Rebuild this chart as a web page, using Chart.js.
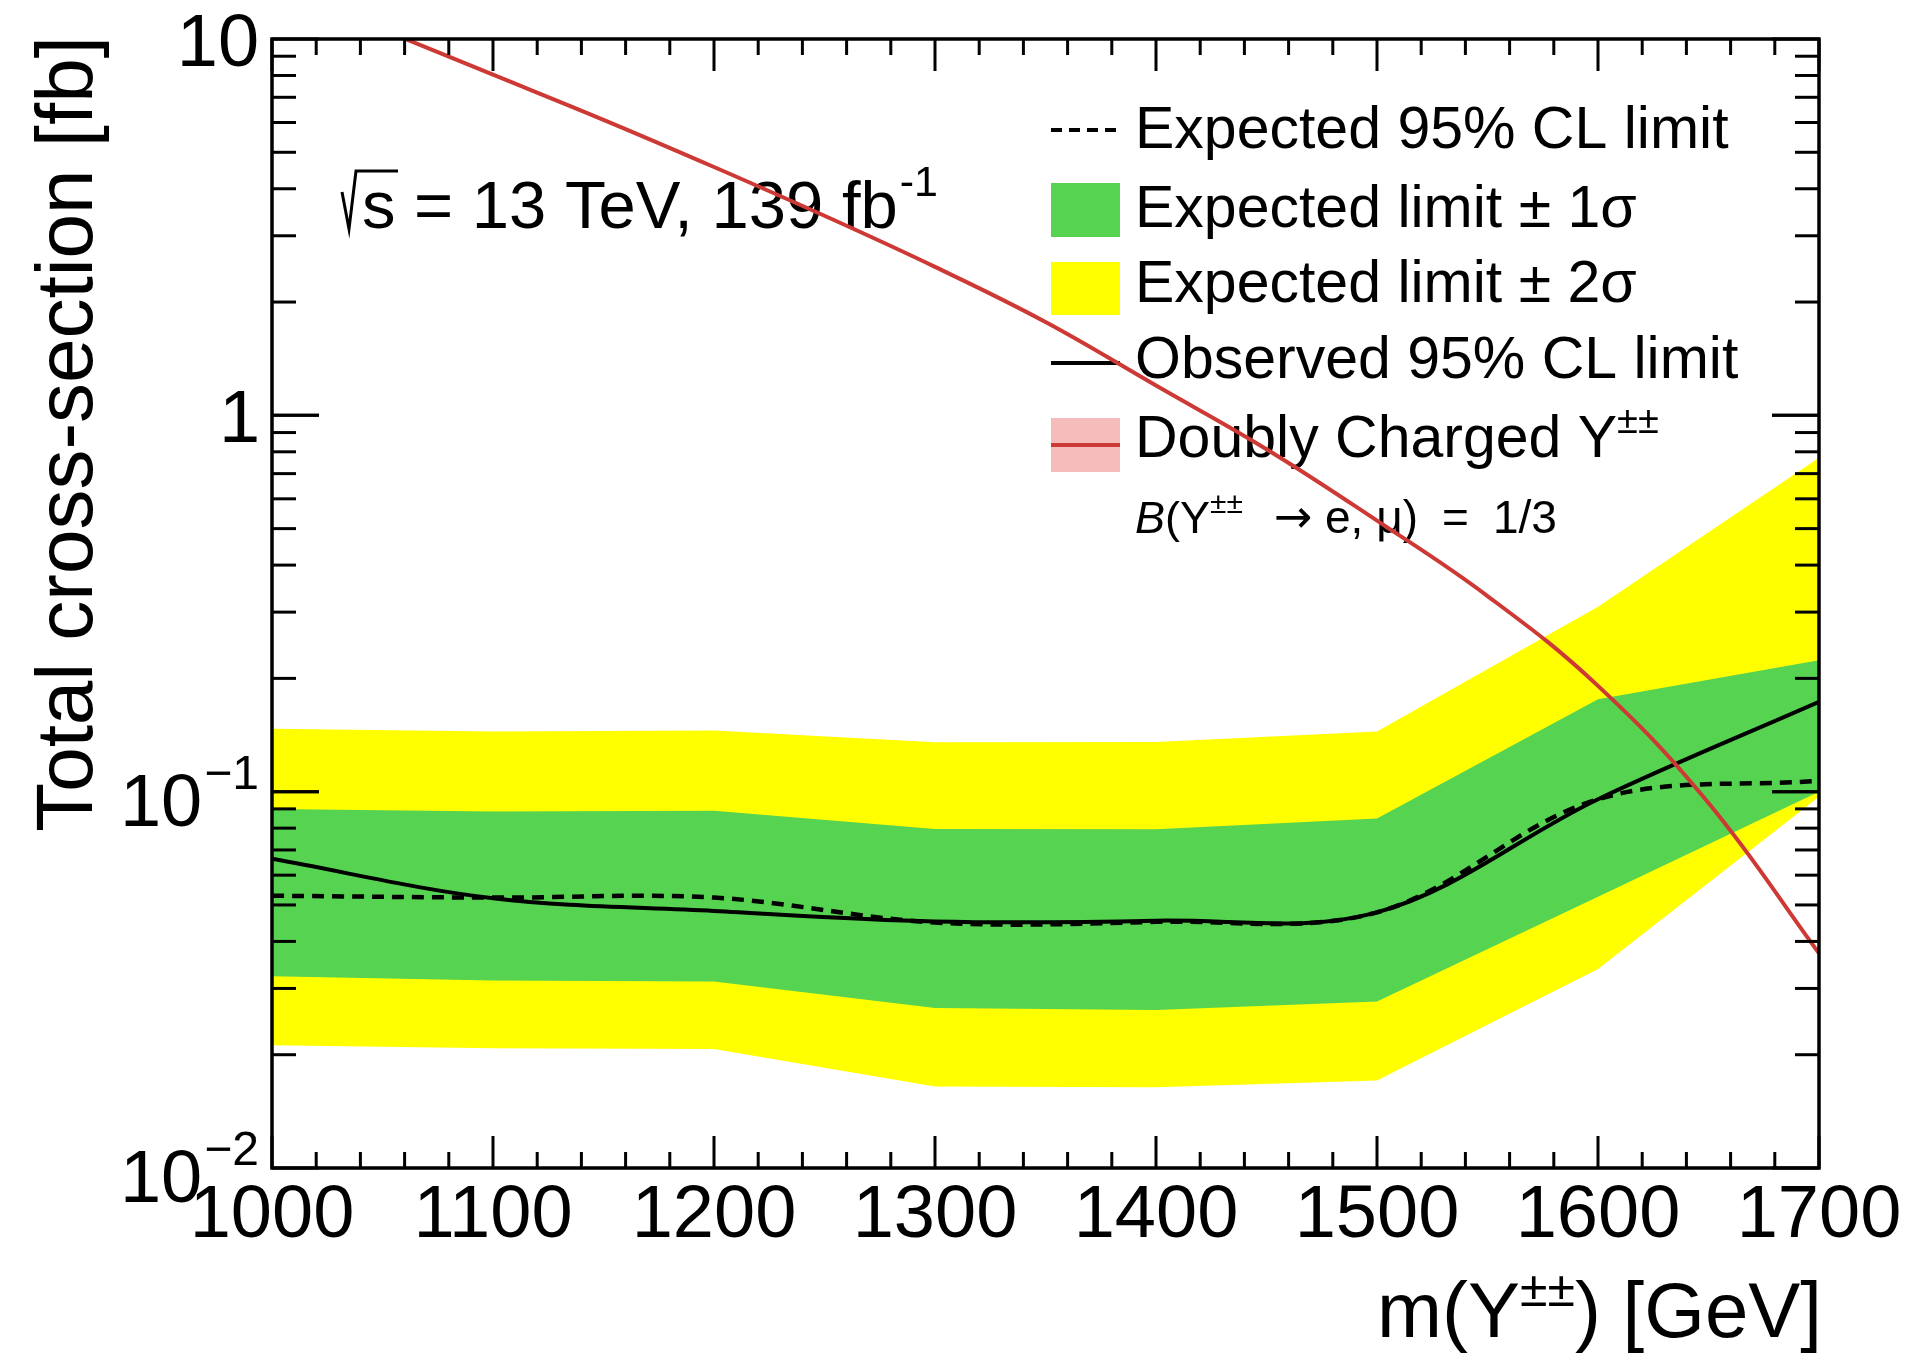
<!DOCTYPE html>
<html>
<head>
<meta charset="utf-8">
<title>Y±± cross-section limits</title>
<script src="https://cdn.jsdelivr.net/npm/chart.js@4.4.1/dist/chart.umd.min.js"></script>
<style>
  html, body { margin: 0; padding: 0; background: #fff; }
  canvas { display: block; }
</style>
</head>
<body>
<canvas id="limits" width="1922" height="1355"></canvas>
<script>
// ── scan points [GeV] and limits [fb] ─────────────────────────────
const masses       = [1000, 1100, 1200, 1300, 1400, 1500, 1600, 1700];
const twoSigmaUp   = [0.147, 0.1445, 0.1454, 0.1354, 0.1355, 0.1444, 0.310, 0.772];
const oneSigmaUp   = [0.0899, 0.0886, 0.0890, 0.0796, 0.0795, 0.0848, 0.176, 0.2234];
const oneSigmaDown = [0.0323, 0.0315, 0.0313, 0.0266, 0.0263, 0.0277, 0.0526, 0.0999];
const twoSigmaDown = [0.0212, 0.0208, 0.0207, 0.01646, 0.0164, 0.01707, 0.0338, 0.097];
const expected     = [0.0529, 0.0523, 0.0523, 0.0449, 0.0451, 0.0478, 0.0955, 0.107];
const observed     = [0.0663, 0.0521, 0.0482, 0.0452, 0.0454, 0.0478, 0.0955, 0.1733];

// theory: doubly charged Y pair production
const theoryMass = [1050, 1100, 1150, 1200, 1250, 1300, 1350, 1400, 1450, 1500, 1550, 1600, 1650, 1700];
const theoryXsec = [10.59, 8.04, 6.10, 4.57, 3.39, 2.48, 1.77, 1.20, 0.813, 0.525, 0.331, 0.191, 0.0933, 0.0372];

// axes
const xMin = 1000, xMax = 1700, xMajor = 100, xMinor = 20;
const yMin = 0.01, yMax = 10;
const xTickLabels = ['1000', '1100', '1200', '1300', '1400', '1500', '1600', '1700'];
const yTickLabels = [
  { v: 10,   base: '10', exp: '' },
  { v: 1,    base: '1',  exp: '' },
  { v: 0.1,  base: '10', exp: '\u22121' },
  { v: 0.01, base: '10', exp: '\u22122' }
];

const YELLOW = '#ffff00';
const GREEN  = '#56d350';
const RED    = '#cd3a35';
const PINK   = '#f6bcbc';
const FONT   = '"Liberation Sans", Arial, Helvetica, sans-serif';
const SYMBOL = '"DejaVu Sans", sans-serif';

function font(px, style, family) { return (style ? style + ' ' : '') + px + 'px ' + (family || FONT); }
function pts(xs, ys) { return xs.map(function (m, i) { return { x: m, y: ys[i] }; }); }

// text made of several pieces (superscripts, italics); returns end x
function runs(ctx, pieces, x, y, align) {
  let total = 0;
  pieces.forEach(function (p) {
    ctx.font = font(p.size, p.style, p.family);
    p.w = ctx.measureText(p.text).width;
    total += p.w + (p.gap || 0);
  });
  let cx = align === 'right' ? x - total : align === 'center' ? x - total / 2 : x;
  ctx.textAlign = 'left';
  ctx.textBaseline = 'alphabetic';
  pieces.forEach(function (p) {
    cx += p.gap || 0;
    ctx.font = font(p.size, p.style, p.family);
    ctx.fillText(p.text, cx, y + (p.dy || 0));
    cx += p.w;
  });
  return cx;
}

function seg(ctx, x1, y1, x2, y2) {
  ctx.beginPath(); ctx.moveTo(x1, y1); ctx.lineTo(x2, y2); ctx.stroke();
}

// legend + energy label, under the curves
const annotations = {
  id: 'annotations',
  beforeDatasetsDraw(chart) {
    const ctx = chart.ctx;
    ctx.save();
    ctx.fillStyle = '#000';

    // √s = 13 TeV, 139 fb-1
    ctx.strokeStyle = '#000'; ctx.lineWidth = 3; ctx.lineJoin = 'miter';
    ctx.beginPath();
    ctx.moveTo(342, 192); ctx.lineTo(349, 229); ctx.lineTo(356, 171); ctx.lineTo(398, 171);
    ctx.stroke();
    runs(ctx, [
      { text: 's = 13 TeV, 139 fb', size: 67 },
      { text: '-1', size: 43, dy: -32, gap: 2 }
    ], 362, 228);

    // legend symbols
    const sx = 1051, sw = 69;
    ctx.lineWidth = 4; ctx.strokeStyle = '#000';
    ctx.setLineDash([11, 7]);
    seg(ctx, sx, 130, sx + sw, 130);
    ctx.setLineDash([]);
    ctx.fillStyle = GREEN;  ctx.fillRect(sx, 183, sw, 54);
    ctx.fillStyle = YELLOW; ctx.fillRect(sx, 262, sw, 53);
    seg(ctx, sx, 363, sx + sw, 363);
    ctx.fillStyle = PINK;   ctx.fillRect(sx, 418, sw, 54);
    ctx.strokeStyle = RED;  seg(ctx, sx, 445, sx + sw, 445);

    // legend text
    ctx.fillStyle = '#000';
    const tx = 1135, fs = 59;
    runs(ctx, [{ text: 'Expected 95% CL limit', size: fs }], tx, 148);
    runs(ctx, [{ text: 'Expected limit \u00b1 1\u03c3', size: fs }], tx, 227);
    runs(ctx, [{ text: 'Expected limit \u00b1 2\u03c3', size: fs }], tx, 302);
    runs(ctx, [{ text: 'Observed 95% CL limit', size: fs }], tx, 378);
    runs(ctx, [
      { text: 'Doubly Charged Y', size: fs },
      { text: '\u00b1\u00b1', size: 38, dy: -24 }
    ], tx, 457);

    // B(Y±± → e, μ) = 1/3, spaced like TLatex
    const by = 533;
    runs(ctx, [
      { text: 'B', size: 45, style: 'italic' },
      { text: '(Y', size: 45 },
      { text: '\u00b1\u00b1', size: 30, dy: -20 }
    ], 1135, by);
    runs(ctx, [{ text: '\u2192', size: 46, family: SYMBOL }], 1274, by - 1);
    runs(ctx, [{ text: 'e, \u03bc)', size: 46 }], 1325, by);
    runs(ctx, [{ text: '=', size: 46 }], 1442, by);
    runs(ctx, [{ text: '1/3', size: 46 }], 1493, by);
    ctx.restore();
  }
};

// ROOT-style frame: inward ticks on all four sides, labels, titles
const frame = {
  id: 'frame',
  afterDraw(chart) {
    const ctx = chart.ctx, a = chart.chartArea;
    const xs = chart.scales.x, ys = chart.scales.y;
    ctx.save();
    ctx.strokeStyle = '#000';
    ctx.fillStyle = '#000';
    ctx.lineWidth = 3;

    for (let m = xMin; m <= xMax; m += xMinor) {
      const px = xs.getPixelForValue(m);
      const len = m % xMajor === 0 ? 32 : 16;
      seg(ctx, px, a.bottom, px, a.bottom - len);
      seg(ctx, px, a.top, px, a.top + len);
    }
    for (let d = -2; d <= 0; d++) {
      for (let k = 1; k <= 10; k++) {
        const v = k * Math.pow(10, d);
        const py = ys.getPixelForValue(v);
        const len = (k === 1 || k === 10) ? 47 : 24;
        seg(ctx, a.left, py, a.left + len, py);
        seg(ctx, a.right, py, a.right - len, py);
      }
    }
    ctx.lineWidth = 3.5;
    ctx.strokeRect(a.left, a.top, a.right - a.left, a.bottom - a.top);

    // x tick labels
    ctx.font = font(74);
    ctx.textAlign = 'center';
    ctx.textBaseline = 'alphabetic';
    xTickLabels.forEach(function (t) {
      ctx.fillText(t, xs.getPixelForValue(Number(t)), 1237);
    });

    // y tick labels
    yTickLabels.forEach(function (t) {
      const py = ys.getPixelForValue(t.v);
      if (t.exp) {
        runs(ctx, [
          { text: t.base, size: 74, dy: 34 },
          { text: t.exp, size: 48, dy: -3, gap: 2 }
        ], 259, py, 'right');
      } else {
        ctx.font = font(74);
        ctx.textAlign = 'left';
        const m = ctx.measureText(t.base);
        ctx.fillText(t.base, 257 - m.actualBoundingBoxRight, py + 27);
      }
    });

    // axis titles
    runs(ctx, [
      { text: 'm(Y', size: 78 },
      { text: '\u00b1\u00b1', size: 50, dy: -31 },
      { text: ') [GeV]', size: 78 }
    ], 1822, 1337, 'right');

    ctx.save();
    ctx.translate(92, 36);
    ctx.rotate(-Math.PI / 2);
    ctx.font = font(80);
    ctx.textAlign = 'right';
    ctx.textBaseline = 'alphabetic';
    ctx.fillText('Total cross-section [fb]', 0, 0);
    ctx.restore();

    ctx.restore();
  }
};

const band = { borderColor: 'rgba(0,0,0,0)', borderWidth: 0, pointRadius: 0, tension: 0 };

new Chart(document.getElementById('limits'), {
  type: 'line',
  data: {
    datasets: [
      Object.assign({ data: pts(masses, twoSigmaUp),   fill: '+1', backgroundColor: YELLOW, order: 6 }, band),
      Object.assign({ data: pts(masses, twoSigmaDown), fill: false, order: 5 }, band),
      Object.assign({ data: pts(masses, oneSigmaUp),   fill: '+1', backgroundColor: GREEN, order: 4 }, band),
      Object.assign({ data: pts(masses, oneSigmaDown), fill: false, order: 3 }, band),
      { data: pts(masses, expected), borderColor: '#000', borderWidth: 4.5, borderDash: [12, 8],
        pointRadius: 0, tension: 0.35, fill: false, order: 2 },
      { data: pts(masses, observed), borderColor: '#000', borderWidth: 4,
        pointRadius: 0, tension: 0.35, fill: false, order: 1 },
      { data: pts(theoryMass, theoryXsec), borderColor: RED, borderWidth: 4,
        pointRadius: 0, tension: 0.4, fill: false, order: 0 }
    ]
  },
  options: {
    responsive: false,
    animation: false,
    devicePixelRatio: 1,
    events: [],
    layout: { padding: { left: 272, top: 39, right: 103, bottom: 187 } },
    plugins: { legend: { display: false }, tooltip: { enabled: false } },
    scales: {
      x: { type: 'linear', min: xMin, max: xMax, display: false },
      y: { type: 'logarithmic', min: yMin, max: yMax, display: false }
    }
  },
  plugins: [annotations, frame]
});
</script>
</body>
</html>
